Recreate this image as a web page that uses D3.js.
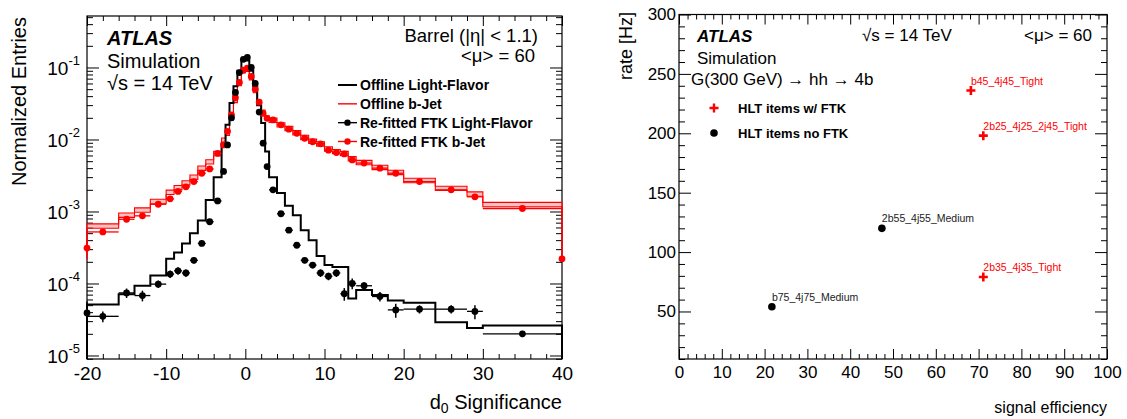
<!DOCTYPE html>
<html>
<head>
<meta charset="utf-8">
<script src="https://cdn.jsdelivr.net/npm/d3@7"></script>
<style>
  body { margin: 0; background: #fff; }
  svg { display: block; font-family: "Liberation Sans", Arial, Helvetica, sans-serif; }
  .axis path { display: none; }
  .axis line { stroke: #000; stroke-width: 1; }
</style>
</head>
<body>
<script>
const width = 1127;
const height = 419;

// ---- left plot: d0 significance ----
const binEdges = [-20, -16, -14, -12, -10, -9, -8, -7, -6, -5, -4, -3, -2.5, -2, -1.5, -1, -0.5, 0,
  0.5, 1, 1.5, 2, 2.5, 3, 4, 5, 6, 7, 8, 9, 10, 11, 12, 13, 14, 16, 18, 20, 24, 28, 30, 40];

const offlineLight = [5.1e-5, 7.1e-5, 9.3e-5, 1.29e-4, 2.2e-4, 2.7e-4, 3.6e-4, 5.0e-4, 7.5e-4, 1.45e-3,
  3.0e-3, 8.9e-3, 0.016, 0.032, 0.055, 0.09, 0.125, 0.125, 0.09, 0.055, 0.03, 0.017, 6.8e-3,
  3.0e-3, 1.8e-3, 1.2e-3, 8.9e-4, 5.5e-4, 4.0e-4, 2.4e-4, 1.8e-4, 1.7e-4, 1.7e-4, 6.2e-5,
  8.1e-5, 6.9e-5, 5.8e-5, 5.4e-5, 2.9e-5, 2.4e-5, 2.6e-5];

const offlineB = [6.3e-4, 8.9e-4, 1.05e-3, 1.38e-3, 1.85e-3, 2.15e-3, 2.5e-3, 3.0e-3, 4.0e-3, 4.9e-3,
  6.4e-3, 9.8e-3, 0.0122, 0.02, 0.035, 0.06, 0.09, 0.095, 0.072, 0.048, 0.032, 0.024, 0.02,
  0.0185, 0.016, 0.0142, 0.0124, 0.0107, 0.0095, 0.0087, 0.0074, 0.0068, 0.0064, 0.0054,
  0.0048, 0.0041, 0.0035, 0.0027, 0.0021, 0.00175, 0.00125];

const ftkLight = [3.5e-5, 7.4e-5, 6.8e-5, 9.8e-5, 1.35e-4, 1.5e-4, 1.4e-4, 2.1e-4, 3.6e-4, 7.2e-4,
  1.4e-3, 3.6e-3, 8.4e-3, 0.02, 0.045, 0.085, 0.13, 0.138, 0.1, 0.06, 0.024, 8.9e-3, 4.2e-3,
  2.0e-3, 9.3e-4, 5.5e-4, 3.4e-4, 2.1e-4, 1.8e-4, 1.4e-4, 1.26e-4, 1.4e-4, 7.2e-5, 1.0e-4,
  9.3e-5, 6.6e-5, 4.3e-5, 4.4e-5, 4.4e-5, 4.1e-5, 2.0e-5];

const ftkLightErr = [0.17, 0.15, 0.17, 0.12, 0.12, 0.12, 0.12, 0.1, 0.08, 0.05, 0.04, 0.02, 0.02,
  0.02, 0.02, 0.02, 0.02, 0.02, 0.02, 0.02, 0.02, 0.02, 0.03, 0.04, 0.05, 0.06, 0.07, 0.09,
  0.1, 0.12, 0.12, 0.12, 0.2, 0.17, 0.12, 0.15, 0.22, 0.13, 0.13, 0.22, 0.1];

const ftkB = [5.2e-4, 7.8e-4, 8.7e-4, 1.26e-3, 1.5e-3, 1.9e-3, 2.2e-3, 2.6e-3, 3.4e-3, 3.9e-3,
  6.4e-3, 8.4e-3, 0.013, 0.022, 0.038, 0.062, 0.092, 0.098, 0.075, 0.05, 0.033, 0.023, 0.0197,
  0.0187, 0.016, 0.0139, 0.0122, 0.0104, 0.0093, 0.0087, 0.0071, 0.0066, 0.0063, 0.0052,
  0.0047, 0.004, 0.0034, 0.0026, 0.002, 0.0016, 0.0011];

// points sitting on the axis edges: [x, value, relative error]
const edgeLight = [[-20, 3.9e-5, 0.45]];
const edgeB = [[-20, 3.1e-4, 0.3], [40, 2.2e-4, 0.08]];

const xTicksL = [-20, -10, 0, 10, 20, 30, 40];
const yTicksL = [1e-5, 1e-4, 1e-3, 1e-2, 1e-1];
const legendL = ['Offline Light-Flavor', 'Offline b-Jet', 'Re-fitted FTK Light-Flavor', 'Re-fitted FTK b-Jet'];

// ---- right plot: rate vs efficiency ----
const effFTK = [68.2, 71.1, 71.1];
const rateFTK = [236, 198, 79];
const namesFTK = ['b45_4j45_Tight', '2b25_4j25_2j45_Tight', '2b35_4j35_Tight'];
const effNoFTK = [21.7, 47.4];
const rateNoFTK = [54, 120];
const namesNoFTK = ['b75_4j75_Medium', '2b55_4j55_Medium'];
const xTicksR = [0, 10, 20, 30, 40, 50, 60, 70, 80, 90, 100];
const yTicksR = [50, 100, 150, 200, 250, 300];

const red = '#ff0000';

const svg = d3.select('body')
  .append('svg')
    .attr('width', width)
    .attr('height', height)
    .attr('viewBox', [0, 0, width, height].join(' '));

svg.append('rect').attr('width', width).attr('height', height).attr('fill', '#fff');

// ============ LEFT ============
const L = { left: 87, right: 562, top: 16, bottom: 359 };
const xL = d3.scaleLinear().domain([-20, 40]).range([L.left, L.right]);
const yL = d3.scaleLog().domain([8.94e-6, 0.519]).range([L.bottom, L.top]).clamp(true);

const logMinors = [];
for (let e = -6; e <= 0; e++) {
  for (let k = 2; k <= 9; k++) {
    const v = k * Math.pow(10, e);
    if (v > yL.domain()[0] && v < yL.domain()[1]) logMinors.push(v);
  }
}
const xMinorsL = d3.range(-20, 41, 2).filter(v => v % 10 !== 0);

const left = svg.append('g');

left.append('defs').append('clipPath').attr('id', 'clipL')
  .append('rect')
    .attr('x', L.left).attr('y', L.top)
    .attr('width', L.right - L.left).attr('height', L.bottom - L.top);

// ticks
left.append('g').attr('class', 'axis')
  .attr('transform', `translate(0,${L.bottom})`)
  .call(d3.axisBottom(xL).tickValues(xTicksL).tickSize(-10).tickPadding(8).tickFormat(d => d))
  .call(g => g.selectAll('text').attr('font-size', 19).attr('fill', '#000'));
left.append('g').attr('class', 'axis')
  .attr('transform', `translate(0,${L.bottom})`)
  .call(d3.axisBottom(xL).tickValues(xMinorsL).tickSize(-5).tickFormat(''));
left.append('g').attr('class', 'axis')
  .attr('transform', `translate(0,${L.top})`)
  .call(d3.axisTop(xL).tickValues(xTicksL).tickSize(-10).tickFormat(''));
left.append('g').attr('class', 'axis')
  .attr('transform', `translate(0,${L.top})`)
  .call(d3.axisTop(xL).tickValues(xMinorsL).tickSize(-5).tickFormat(''));

left.append('g').attr('class', 'axis')
  .attr('transform', `translate(${L.left},0)`)
  .call(d3.axisLeft(yL).tickValues(yTicksL).tickSize(-12).tickPadding(7).tickFormat(''))
  .call(g => g.selectAll('.tick text')
    .attr('font-size', 19).attr('fill', '#000').attr('dy', '0.36em')
    .each(function (d) {
      const t = d3.select(this);
      t.append('tspan').text('10');
      t.append('tspan').attr('font-size', 13).attr('dy', '-0.75em').text(Math.round(Math.log10(d)));
    }));
left.append('g').attr('class', 'axis')
  .attr('transform', `translate(${L.left},0)`)
  .call(d3.axisLeft(yL).tickValues(logMinors).tickSize(-6).tickFormat(''));
left.append('g').attr('class', 'axis')
  .attr('transform', `translate(${L.right},0)`)
  .call(d3.axisRight(yL).tickValues(yTicksL).tickSize(-12).tickFormat(''));
left.append('g').attr('class', 'axis')
  .attr('transform', `translate(${L.right},0)`)
  .call(d3.axisRight(yL).tickValues(logMinors).tickSize(-6).tickFormat(''));

left.append('rect')
  .attr('x', L.left).attr('y', L.top)
  .attr('width', L.right - L.left).attr('height', L.bottom - L.top)
  .attr('fill', 'none').attr('stroke', '#000').attr('stroke-width', 1.2);

// histograms
const steps = (vals) => vals.flatMap((v, i) => [[binEdges[i], v], [binEdges[i + 1], v]]);
const line = d3.line().x(d => xL(d[0])).y(d => yL(d[1]));
const bandFrac = 0.07;

// the outlines drop onto the edge points at both ends, so they are not clipped
const plot = left.append('g');

const bSteps = [[-20, edgeB[0][1]], ...steps(offlineB), [40, edgeB[1][1]]];
plot.append('path')
  .datum(steps(offlineB))
  .attr('fill', '#ff9090')
  .attr('opacity', 0.55)
  .attr('d', d3.area().x(d => xL(d[0]))
    .y0(d => yL(d[1] * (1 - bandFrac))).y1(d => yL(d[1] * (1 + bandFrac))));
[1 - bandFrac, 1 + bandFrac].forEach(f => {
  plot.append('path')
    .datum(bSteps.map((d, i) => [d[0], (i === 0 || i === bSteps.length - 1) ? d[1] : d[1] * f]))
    .attr('fill', 'none').attr('stroke', red).attr('stroke-width', 1.1)
    .attr('d', line);
});

const lSteps = [[-20, 1e-6], ...steps(offlineLight), [40, 1e-6]];
plot.append('path')
  .datum(lSteps)
  .attr('fill', 'none').attr('stroke', '#000').attr('stroke-width', 2)
  .attr('d', line);

// markers with error bars
const drawPoints = (vals, errs, color, edges) => {
  const pts = vals.map((v, i) => ({
    x0: binEdges[i], x1: binEdges[i + 1], x: (binEdges[i] + binEdges[i + 1]) / 2, v, e: errs[i],
  })).concat(edges.map(d => ({ x0: d[0], x1: d[0], x: d[0], v: d[1], e: d[2] })));
  const g = plot.append('g');
  g.selectAll('.h').data(pts).enter().append('line')
    .attr('x1', d => xL(d.x0)).attr('x2', d => xL(d.x1))
    .attr('y1', d => yL(d.v)).attr('y2', d => yL(d.v))
    .attr('stroke', color).attr('stroke-width', 1.3);
  g.selectAll('.v').data(pts).enter().append('line')
    .attr('x1', d => xL(d.x)).attr('x2', d => xL(d.x))
    .attr('y1', d => yL(d.v * (1 - d.e))).attr('y2', d => yL(d.v * (1 + d.e)))
    .attr('stroke', color).attr('stroke-width', 1.5);
  g.selectAll('circle').data(pts).enter().append('circle')
    .attr('cx', d => xL(d.x)).attr('cy', d => yL(d.v))
    .attr('r', 3.4).attr('fill', color);
};
drawPoints(ftkB, ftkB.map(() => 0.03), red, edgeB);
drawPoints(ftkLight, ftkLightErr, '#000', edgeLight);

// labels
left.append('text')
  .attr('transform', 'translate(26,17) rotate(-90)')
  .attr('text-anchor', 'end').attr('font-size', 20)
  .text('Normalized Entries');
left.append('text')
  .attr('x', L.right).attr('y', 409).attr('text-anchor', 'end').attr('font-size', 20)
  .call(t => {
    t.append('tspan').text('d');
    t.append('tspan').attr('font-size', 14).attr('dy', 4).text('0');
    t.append('tspan').attr('dy', -4).text(' Significance');
  });

left.append('text').attr('x', 107).attr('y', 45)
  .attr('font-size', 20).attr('font-weight', 'bold').attr('font-style', 'italic').text('ATLAS');
left.append('text').attr('x', 107).attr('y', 68).attr('font-size', 20).text('Simulation');
left.append('text').attr('x', 107).attr('y', 90).attr('font-size', 20).text('\u221As = 14 TeV');
left.append('text').attr('x', 538).attr('y', 41.5).attr('text-anchor', 'end')
  .attr('font-size', 18.5).text('Barrel (|\u03b7| < 1.1)');
left.append('text').attr('x', 535).attr('y', 62).attr('text-anchor', 'end')
  .attr('font-size', 18.5).text('<\u03bc> = 60');

const legY = d3.scalePoint().domain(legendL).range([85, 141.5]);
const legColor = ['#000', red, '#000', red];
const leg = left.append('g');
legendL.forEach((name, i) => {
  const y = legY(name);
  leg.append('line').attr('x1', 338).attr('x2', 357).attr('y1', y).attr('y2', y)
    .attr('stroke', legColor[i]).attr('stroke-width', i === 0 ? 2 : 1.4);
  if (i > 1) {
    leg.append('circle').attr('cx', 347.5).attr('cy', y).attr('r', 3.2).attr('fill', legColor[i]);
  }
  leg.append('text').attr('x', 360).attr('y', y).attr('dy', '0.36em')
    .attr('font-size', 14).attr('font-weight', 'bold').text(name);
});

// ============ RIGHT ============
const R = { left: 679, right: 1107, top: 14.5, bottom: 359 };
const xR = d3.scaleLinear().domain([0, 100]).range([R.left, R.right]);
const yR = d3.scaleLinear().domain([10, 300]).range([R.bottom, R.top]);
const xMinorsR = d3.range(0, 101, 2).filter(v => v % 10 !== 0);
const yMinorsR = d3.range(10, 301, 10).filter(v => v % 50 !== 0);

const right = svg.append('g');

right.append('g').attr('class', 'axis')
  .attr('transform', `translate(0,${R.bottom})`)
  .call(d3.axisBottom(xR).tickValues(xTicksR).tickSize(-10).tickPadding(7).tickFormat(d => d))
  .call(g => g.selectAll('text').attr('font-size', 17).attr('fill', '#000'));
right.append('g').attr('class', 'axis')
  .attr('transform', `translate(0,${R.bottom})`)
  .call(d3.axisBottom(xR).tickValues(xMinorsR).tickSize(-5).tickFormat(''));
right.append('g').attr('class', 'axis')
  .attr('transform', `translate(0,${R.top})`)
  .call(d3.axisTop(xR).tickValues(xTicksR).tickSize(-10).tickFormat(''));
right.append('g').attr('class', 'axis')
  .attr('transform', `translate(0,${R.top})`)
  .call(d3.axisTop(xR).tickValues(xMinorsR).tickSize(-5).tickFormat(''));
right.append('g').attr('class', 'axis')
  .attr('transform', `translate(${R.left},0)`)
  .call(d3.axisLeft(yR).tickValues(yTicksR).tickSize(-12).tickPadding(3).tickFormat(d => d))
  .call(g => g.selectAll('text').attr('font-size', 17).attr('fill', '#000'));
right.append('g').attr('class', 'axis')
  .attr('transform', `translate(${R.left},0)`)
  .call(d3.axisLeft(yR).tickValues(yMinorsR).tickSize(-6).tickFormat(''));
right.append('g').attr('class', 'axis')
  .attr('transform', `translate(${R.right},0)`)
  .call(d3.axisRight(yR).tickValues(yTicksR).tickSize(-12).tickFormat(''));
right.append('g').attr('class', 'axis')
  .attr('transform', `translate(${R.right},0)`)
  .call(d3.axisRight(yR).tickValues(yMinorsR).tickSize(-6).tickFormat(''));

right.append('rect')
  .attr('x', R.left).attr('y', R.top)
  .attr('width', R.right - R.left).attr('height', R.bottom - R.top)
  .attr('fill', 'none').attr('stroke', '#000').attr('stroke-width', 1.2);

const plus = 'M-4.5,0H4.5M0,-4.5V4.5';
const ftkPts = effFTK.map((e, i) => ({ e, r: rateFTK[i], name: namesFTK[i] }));
const noPts = effNoFTK.map((e, i) => ({ e, r: rateNoFTK[i], name: namesNoFTK[i] }));

right.selectAll('.ftk').data(ftkPts).enter().append('path')
  .attr('transform', d => `translate(${xR(d.e)},${yR(d.r)})`)
  .attr('d', plus).attr('stroke', red).attr('stroke-width', 2.6);
right.selectAll('.ftkl').data(ftkPts).enter().append('text')
  .attr('x', d => xR(d.e)).attr('y', d => yR(d.r) - 6)
  .attr('font-size', 10.5).attr('fill', red).text(d => d.name);

right.selectAll('.no').data(noPts).enter().append('circle')
  .attr('cx', d => xR(d.e)).attr('cy', d => yR(d.r)).attr('r', 3.8).attr('fill', '#000');
right.selectAll('.nol').data(noPts).enter().append('text')
  .attr('x', d => xR(d.e)).attr('y', d => yR(d.r) - 6)
  .attr('font-size', 10.5).attr('fill', '#222').text(d => d.name);

right.append('text')
  .attr('transform', 'translate(632,12) rotate(-90)')
  .attr('text-anchor', 'end').attr('font-size', 18).text('rate [Hz]');
right.append('text')
  .attr('x', R.right).attr('y', 413).attr('text-anchor', 'end').attr('font-size', 16)
  .text('signal efficiency');

right.append('text').attr('x', 697).attr('y', 42)
  .attr('font-size', 17).attr('font-weight', 'bold').attr('font-style', 'italic').text('ATLAS');
right.append('text').attr('x', 697).attr('y', 64).attr('font-size', 17).text('Simulation');
right.append('text').attr('x', 691).attr('y', 85).attr('font-size', 17)
  .text('G(300 GeV) \u2192 hh \u2192 4b');
right.append('text').attr('x', 862).attr('y', 41).attr('font-size', 17).text('\u221As = 14 TeV');
right.append('text').attr('x', 1092).attr('y', 41).attr('text-anchor', 'end')
  .attr('font-size', 17).text('<\u03bc> = 60');

right.append('path').attr('transform', 'translate(714,108)')
  .attr('d', plus).attr('stroke', red).attr('stroke-width', 2.4);
right.append('text').attr('x', 738).attr('y', 108).attr('dy', '0.36em')
  .attr('font-size', 13).attr('font-weight', 'bold').text('HLT items w/ FTK');
right.append('circle').attr('cx', 714).attr('cy', 133).attr('r', 3.8).attr('fill', '#000');
right.append('text').attr('x', 738).attr('y', 133).attr('dy', '0.36em')
  .attr('font-size', 13).attr('font-weight', 'bold').text('HLT items no FTK');
</script>
</body>
</html>
